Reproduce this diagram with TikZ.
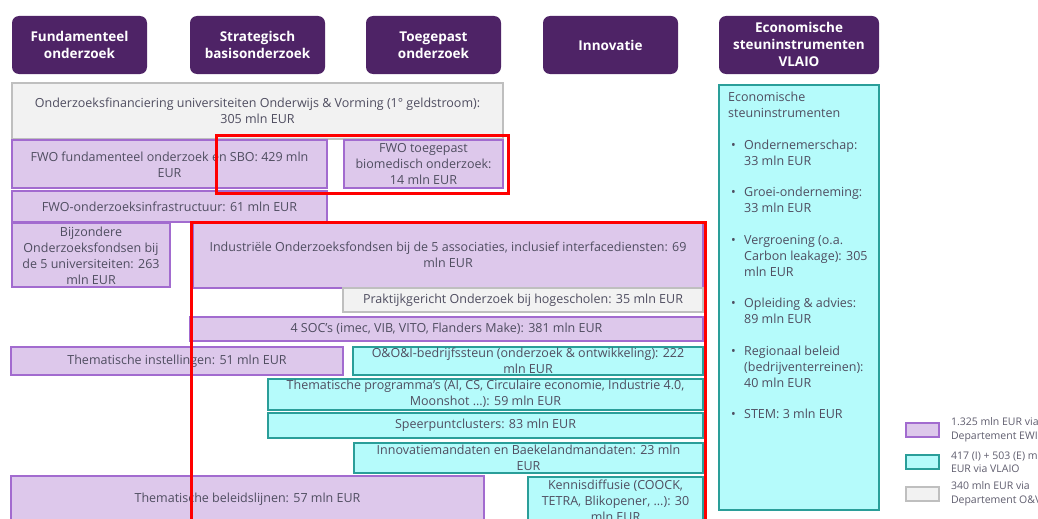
\documentclass[tikz,border=0pt]{standalone}
\usepackage{fontspec}
\setmainfont{Open Sans}
\usetikzlibrary{positioning}
\definecolor{hdrpurple}{HTML}{4E2366}
\definecolor{ewifill}{HTML}{DDC8EB}
\definecolor{ewiline}{HTML}{A26BCF}
\definecolor{vlaiofill}{HTML}{B5FBFB}
\definecolor{vlaioline}{HTML}{2A9E99}
\definecolor{ovfill}{HTML}{F2F2F2}
\definecolor{ovline}{HTML}{BFBFBF}
\definecolor{celltext}{HTML}{4F4D60}
\definecolor{legtext}{HTML}{5F5D6E}
\newcommand\vbul{\makebox[16pt][l]{\hspace*{3pt}\textbullet}}
\newcommand\vind{\hspace*{16pt}}

\begin{document}
\begin{tikzpicture}[x=1pt,y=-1pt,
  every node/.style={font=\fontsize{12.5}{16}\selectfont,text=celltext,align=center,inner sep=0pt},
  header/.style={fill=hdrpurple,rounded corners=7pt},
  hdrtext/.style={text=white,font=\fontsize{13.5}{17}\selectfont\bfseries},
  ewi/.style={draw=ewiline,fill=ewifill,line width=1.6pt},
  vlaio/.style={draw=vlaioline,fill=vlaiofill,line width=1.6pt},
  ov/.style={draw=ovline,fill=ovfill,line width=1.6pt},
  redframe/.style={draw=red,line width=3pt},
  legendtext/.style={font=\fontsize{10.5}{13.5}\selectfont,text=legtext,align=left}]
  \useasboundingbox (0,0) rectangle (1038,519);
  % column headers
  \fill[header] (12,16) rectangle (147,74);
  \node[hdrtext] (hfund) at (79.5,45) {Fundamenteel\\onderzoek};
  \fill[header] (190,16) rectangle (325,74);
  \node[hdrtext] (hsbo) at (257.5,45) {Strategisch\\basisonderzoek};
  \fill[header] (366,16) rectangle (501,74);
  \node[hdrtext] (htoeg) at (433.5,45) {Toegepast\\onderzoek};
  \fill[header] (543,16) rectangle (678,74);
  \node[hdrtext] (hinno) at (610.5,45) {Innovatie};
  \fill[header] (719,16) rectangle (879,74);
  \node[hdrtext] (hvlaio) at (799,44) {Economische\\steuninstrumenten\\VLAIO};
  % first money stream O&V
  \draw[ov] (12,83) rectangle (503,139);
  \node (ov) at (257.5,111) {Onderzoeksfinanciering universiteiten Onderwijs \& Vorming (1° geldstroom):\\305 mln EUR};
  % FWO
  \draw[ewi] (12,140) rectangle (327,188);
  \node (fwofund) at (169.5,164.5) {FWO fundamenteel onderzoek en SBO: 429 mln\\EUR};
  \draw[ewi] (344,140) rectangle (503,188);
  \node (fwotoeg) at (423.5,164) {FWO toegepast\\biomedisch onderzoek:\\14 mln EUR};
  \draw[ewi] (12,191) rectangle (327,222);
  \node (fwoinfra) at (169.5,206.5) {FWO-onderzoeksinfrastructuur: 61 mln EUR};
  % universities and associations
  \draw[ewi] (12,223) rectangle (170,287);
  \node (bof) at (91,255.5) {Bijzondere\\Onderzoeksfondsen bij\\de 5 universiteiten: 263\\mln EUR};
  \draw[ewi] (193,223) rectangle (703,288);
  \node (iof) at (448,255) {Industriële Onderzoeksfondsen bij de 5 associaties, inclusief interfacediensten: 69\\mln EUR};
  \draw[ov] (343,288) rectangle (703,312);
  \node (pwo) at (523,300) {Praktijkgericht Onderzoek bij hogescholen: 35 mln EUR};
  \draw[ewi] (190,317) rectangle (703,341);
  \node (soc) at (446.5,329) {4 SOC’s (imec, VIB, VITO, Flanders Make): 381 mln EUR};
  \draw[ewi] (11,347) rectangle (343,375);
  \node (thinst) at (177,361) {Thematische instellingen: 51 mln EUR};
  % VLAIO innovation support
  \draw[vlaio] (353,347) rectangle (703,375);
  \node (ooi) at (528,360.5) {O\&O\&I-bedrijfssteun (onderzoek \& ontwikkeling): 222\\mln EUR};
  \draw[vlaio] (268,379) rectangle (703,410);
  \node (thprog) at (485.5,394) {Thematische programma’s (AI, CS, Circulaire economie, Industrie 4.0,\\Moonshot ...): 59 mln EUR};
  \draw[vlaio] (268,413) rectangle (703,438);
  \node (speer) at (485.5,425.5) {Speerpuntclusters: 83 mln EUR};
  \draw[vlaio] (354,443) rectangle (703,473);
  \node (innov) at (528.5,457.5) {Innovatiemandaten en Baekelandmandaten: 23 mln\\EUR};
  \draw[ewi] (11,476) rectangle (484,524);
  \node (thbel) at (247.5,499) {Thematische beleidslijnen: 57 mln EUR};
  \draw[vlaio] (528,477) rectangle (703,530);
  \node (kennis) at (615.5,500.5) {Kennisdiffusie (COOCK,\\TETRA, Blikopener, ...): 30\\mln EUR};
  % economic instruments
  \draw[vlaio] (719,85) rectangle (879,510);
  \node[anchor=north west,align=left] (econ) at (728,92) {Economische\\steuninstrumenten\\[15.5pt]
    \vbul Ondernemerschap:\\\vind 33 mln EUR\\[15.5pt]
    \vbul Groei-onderneming:\\\vind 33 mln EUR\\[15.5pt]
    \vbul Vergroening (o.a.\\\vind Carbon leakage): 305\\\vind mln EUR\\[15.5pt]
    \vbul Opleiding \& advies:\\\vind 89 mln EUR\\[15.5pt]
    \vbul Regionaal beleid\\\vind (bedrijventerreinen):\\\vind 40 mln EUR\\[15.5pt]
    \vbul STEM: 3 mln EUR};
  % legend
  \node[ewi,minimum width=33,minimum height=14] (legewi) at (922.5,430) {};
  \node[legendtext,anchor=west,right=11pt of legewi] (legewitext) {1.325 mln EUR via\\Departement EWI};
  \node[vlaio,minimum width=33,minimum height=14] (legvlaio) at (922.5,462) {};
  \node[legendtext,anchor=west,right=11pt of legvlaio] (legvlaiotext) {417 (I) + 503 (E) mln\\EUR via VLAIO};
  \node[ov,minimum width=33,minimum height=14] (legov) at (922.5,494) {};
  \node[legendtext,anchor=west,right=11pt of legov] (legovtext) {340 mln EUR via\\Departement O\&V};
  % highlight frames
  \draw[redframe] (216,135) rectangle (508,193);
  \draw[redframe] (191,222) rectangle (705,530);
\end{tikzpicture}
\end{document}
